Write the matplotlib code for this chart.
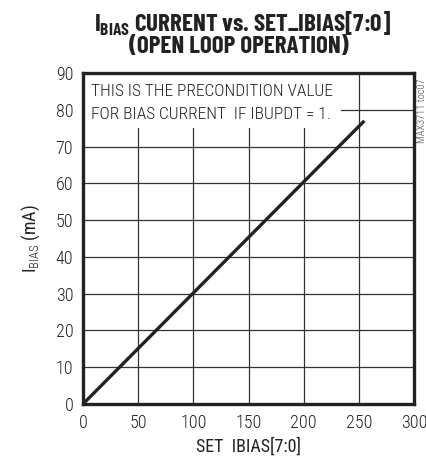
import matplotlib
matplotlib.use("Agg")
import matplotlib.pyplot as plt
from matplotlib.patches import Rectangle

# Data
set_ibias = [0, 255]
ibias_ma = [0, 77]
x_ticks = [0, 50, 100, 150, 200, 250, 300]
y_ticks = [0, 10, 20, 30, 40, 50, 60, 70, 80, 90]

FONT = ['Roboto Condensed', 'Barlow Semi Condensed', 'DejaVu Sans']
TFONT = ['Barlow Condensed', 'DejaVu Sans']
plt.rcParams['font.family'] = FONT
plt.rcParams['font.weight'] = 300
plt.rcParams['mathtext.fontset'] = 'custom'
plt.rcParams['mathtext.rm'] = 'Roboto Condensed:light'
plt.rcParams['mathtext.bf'] = 'Barlow Condensed:bold'

TXT = '#222222'
fig = plt.figure(figsize=(4.27, 4.61), dpi=100)
ax = fig.add_axes([83/427, 57/461, 331/427, 331/461])

ax.plot(set_ibias, ibias_ma, color='#222222', lw=2.4, solid_capstyle='butt', zorder=4)

ax.set_xlim(0, 300)
ax.set_ylim(0, 90)
ax.set_xticks(x_ticks)
ax.set_yticks(y_ticks)
ax.tick_params(length=0, labelsize=13, pad=7, colors=TXT)
ax.grid(True, color='#333333', lw=0.9)
ax.set_axisbelow(True)
for s in ax.spines.values():
    s.set_linewidth(2.4)
    s.set_color('#222222')
    s.set_zorder(5)

# white box behind annotation text
ax.add_patch(Rectangle((0, 0.835), 0.778, 0.165, transform=ax.transAxes,
                       facecolor='white', edgecolor='none', zorder=2))
ax.text(0.025, 0.945, 'THIS IS THE PRECONDITION VALUE', transform=ax.transAxes,
        fontsize=12.5, color=TXT, va='center', ha='left', zorder=3)
ax.text(0.025, 0.875, 'FOR BIAS CURRENT  IF IBUPDT = 1.', transform=ax.transAxes,
        fontsize=12.5, color=TXT, va='center', ha='left', zorder=3)

ax.set_xlabel('SET  IBIAS[7:0]', fontsize=13, color=TXT, labelpad=4)
ax.set_ylabel(r'I$_{\rm BIAS}$ (mA)', fontsize=13, color=TXT, labelpad=10)

fig.text(0.567, 0.948, r'I$_{\bf BIAS}$ CURRENT vs. SET_IBIAS[7:0]', ha='center', va='center',
         fontsize=18, fontweight='bold', color=TXT, family=TFONT)
fig.text(0.56, 0.898, '(OPEN LOOP OPERATION)', ha='center', va='center',
         fontsize=18, fontweight='bold', color=TXT, family=TFONT)

fig.text(0.988, 0.76, 'MAX3711 toc07', rotation=90, ha='center', va='center',
         fontsize=7.5, color='#444444')

fig.savefig('out.png', dpi=100)
